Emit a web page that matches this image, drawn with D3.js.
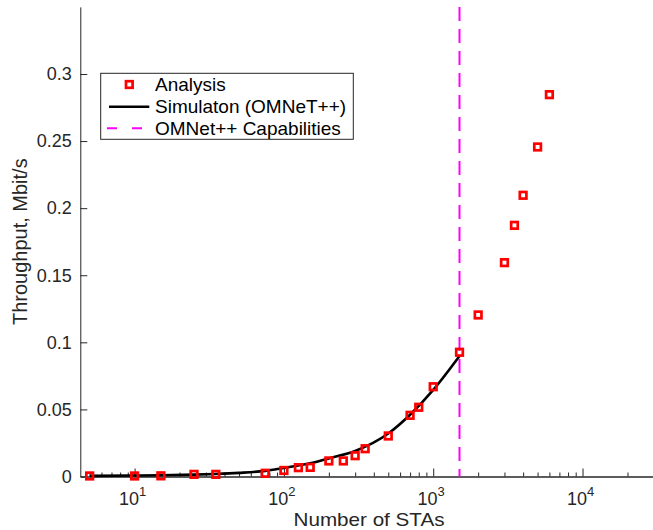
<!DOCTYPE html>
<html>
<head>
<meta charset="utf-8">
<script src="https://cdn.jsdelivr.net/npm/d3@7"></script>
<style>
  body { margin: 0; background: #fff; }
  svg { font-family: "Liberation Sans", Arial, sans-serif; }
</style>
</head>
<body>
<div id="chart"></div>
<script>
// analysis points
var analysisN   = [5, 10, 15, 25, 35, 75, 100, 125, 150, 200, 250, 300, 350, 500, 700, 800, 1000, 1500, 2000, 3000, 3500, 4000, 5000, 6000];
var analysisThr = [0.0004, 0.0004, 0.0005, 0.0016, 0.0016, 0.0024, 0.0045, 0.0066, 0.0068, 0.0116, 0.0116, 0.0155, 0.0207, 0.0302, 0.0456, 0.0516, 0.0669, 0.0926, 0.1204, 0.1594, 0.1872, 0.2096, 0.2456, 0.2846];

// simulation (OMNeT++)
var simN   = [5, 10, 15, 25, 35, 50, 75, 100, 150, 200, 300, 500, 700, 1000, 1500];
var simThr = [0.0005, 0.0007, 0.0009, 0.0014, 0.0019, 0.0027, 0.0042, 0.0064, 0.0098, 0.0135, 0.019, 0.032, 0.046, 0.0645, 0.0898];

// OMNeT++ limit
var capN = [1500];

var xMajor = [10, 100, 1000, 10000];
var xMajorExp = ["1", "2", "3", "4"];
var yTicks = [0, 0.05, 0.1, 0.15, 0.2, 0.25, 0.3];
var yTickLabels = ["0", "0.05", "0.1", "0.15", "0.2", "0.25", "0.3"];
var legendLabels = ["Analysis", "Simulaton (OMNeT++)", "OMNet++ Capabilities"];

var width = 653, height = 530;
var axisCol = "#262626";

var svg = d3.select("#chart").append("svg").attr("width", width).attr("height", height);

// scales
var x = d3.scaleLog()
    .domain([Math.pow(10, 0.6363), Math.pow(10, 4.472)])
    .range([80.3, 653]);
var y = d3.scaleLinear()
    .domain([0, 0.35])
    .range([476.5, 6.9]);

// minor ticks
var xMinor = [];
[1, 10, 100, 1000, 10000].forEach(function(d) {
    for (var k = 2; k <= 9; k++) {
        var v = d * k;
        if (v >= x.domain()[0] && v <= x.domain()[1]) xMinor.push(v);
    }
});

var gx = svg.append("g").attr("transform", "translate(0," + y(0) + ")");
gx.call(d3.axisBottom(x).tickValues(xMinor).tickSizeInner(-4).tickSizeOuter(0).tickFormat(""));
gx.append("g").call(d3.axisBottom(x).tickValues(xMajor).tickSizeInner(-8).tickSizeOuter(0).tickFormat(""));
gx.selectAll("path.domain").attr("stroke", axisCol);
gx.selectAll(".tick line").attr("stroke", axisCol);

// x tick labels with exponent
var xl = svg.append("g");
xMajor.forEach(function(v, i) {
    var t = xl.append("text")
        .attr("x", x(v) - 2)
        .attr("y", 504.5)
        .attr("text-anchor", "middle")
        .attr("fill", axisCol)
        .attr("font-size", "18px");
    t.append("tspan").text("10");
    t.append("tspan").attr("dy", -9).attr("font-size", "13px").text(xMajorExp[i]);
});

var gy = svg.append("g").attr("transform", "translate(" + x.range()[0] + ",0)");
gy.call(d3.axisLeft(y).tickValues(yTicks).tickSizeInner(-7).tickSizeOuter(0).tickPadding(8.5)
    .tickFormat(function(d, i) { return yTickLabels[i]; }));
gy.select("path.domain").attr("stroke", axisCol);
gy.selectAll(".tick line").attr("stroke", axisCol);
gy.selectAll(".tick text").attr("fill", axisCol).attr("font-size", "18px").attr("font-family", null);

// axis titles
svg.append("text")
    .attr("x", 369)
    .attr("y", 525.5)
    .attr("text-anchor", "middle")
    .attr("fill", axisCol)
    .attr("font-size", "19px")
    .attr("textLength", 151)
    .attr("lengthAdjust", "spacingAndGlyphs")
    .text("Number of STAs");

svg.append("text")
    .attr("transform", "translate(27," + ((y(0) + y(0.35)) / 2) + ") rotate(-90)")
    .attr("text-anchor", "middle")
    .attr("fill", axisCol)
    .attr("font-size", "20px")
    .text("Throughput, Mbit/s");

// capability line
svg.append("g").selectAll("line")
    .data(capN)
    .enter()
    .append("line")
    .attr("x1", function(d) { return x(d); })
    .attr("x2", function(d) { return x(d); })
    .attr("y1", y(0.35))
    .attr("y2", y(0))
    .attr("stroke", "#ff00ff")
    .attr("stroke-width", 2)
    .attr("stroke-dasharray", "14,8");

// simulation line
var simData = simN.map(function(n, i) { return { n: n, v: simThr[i] }; });
svg.append("path")
    .datum(simData)
    .attr("fill", "none")
    .attr("stroke", "#000")
    .attr("stroke-width", 2.6)
    .attr("stroke-linejoin", "round")
    .attr("d", d3.line()
        .x(function(d) { return x(d.n); })
        .y(function(d) { return y(d.v); })
        .curve(d3.curveMonotoneX));

// analysis markers
var anaData = analysisN.map(function(n, i) { return { n: n, v: analysisThr[i] }; });
var ms = 6.6;
svg.append("g")
    .selectAll("rect")
    .data(anaData)
    .enter()
    .append("rect")
    .attr("x", function(d) { return x(d.n) - ms / 2; })
    .attr("y", function(d) { return y(d.v) - ms / 2; })
    .attr("width", ms)
    .attr("height", ms)
    .attr("fill", "none")
    .attr("stroke", "#ff0000")
    .attr("stroke-width", 2.7);

// legend
var lg = svg.append("g");
lg.append("rect")
    .attr("x", 100.7).attr("y", 73.3)
    .attr("width", 252.6).attr("height", 66)
    .attr("fill", "#fff")
    .attr("stroke", axisCol)
    .attr("stroke-width", 1);

var rowY = [84.5, 106.7, 128.3];
lg.append("rect")
    .attr("x", 129.3 - ms / 2).attr("y", rowY[0] - ms / 2)
    .attr("width", ms).attr("height", ms)
    .attr("fill", "none").attr("stroke", "#ff0000").attr("stroke-width", 2.7);
lg.append("line")
    .attr("x1", 109).attr("x2", 149.3)
    .attr("y1", rowY[1]).attr("y2", rowY[1])
    .attr("stroke", "#000").attr("stroke-width", 2.6);
lg.append("line")
    .attr("x1", 107).attr("x2", 145)
    .attr("y1", rowY[2]).attr("y2", rowY[2])
    .attr("stroke", "#ff00ff").attr("stroke-width", 2)
    .attr("stroke-dasharray", "10,15");

lg.selectAll("text.lab")
    .data(legendLabels)
    .enter()
    .append("text")
    .attr("class", "lab")
    .attr("x", 155)
    .attr("y", function(d, i) { return rowY[i] + 6.5; })
    .attr("fill", "#000")
    .attr("font-size", "19px")
    .text(function(d) { return d; });
</script>
</body>
</html>
